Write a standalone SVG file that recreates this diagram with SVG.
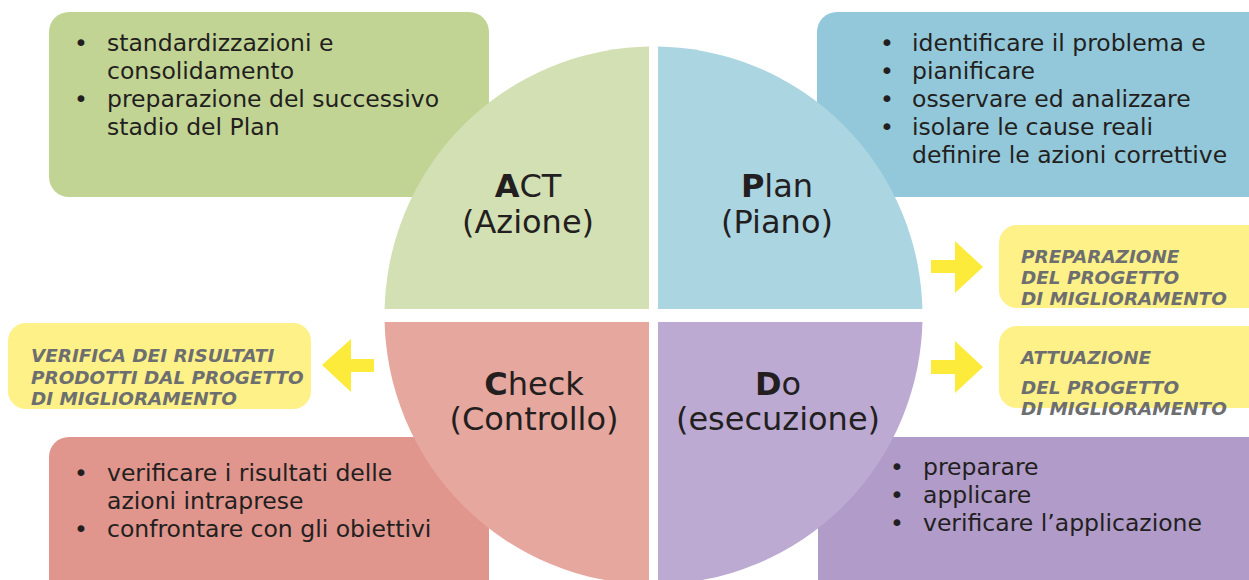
<svg xmlns="http://www.w3.org/2000/svg" width="1249" height="580" viewBox="0 0 1249 580">
<style>
.body{font-family:"DejaVu Sans","Liberation Sans",sans-serif;font-size:23.5px;fill:#231f20}
.big{font-family:"DejaVu Sans","Liberation Sans",sans-serif;font-size:32px;fill:#231f20;text-anchor:middle}
.yl{font-family:"DejaVu Sans","Liberation Sans",sans-serif;font-size:18.4px;font-weight:bold;font-style:italic;fill:#6d6e70}
.bul{text-anchor:middle}
.arrow{fill:#fdeb3b}
</style>
<defs>
<clipPath id="cq1"><rect x="0" y="0" width="649" height="309"/></clipPath>
<clipPath id="cq2"><rect x="658" y="0" width="600" height="309"/></clipPath>
<clipPath id="cq3"><rect x="0" y="322" width="649" height="300"/></clipPath>
<clipPath id="cq4"><rect x="658" y="322" width="600" height="300"/></clipPath>
</defs>
<rect width="1249" height="580" fill="#ffffff"/>

<g id="act-box">
<rect x="49" y="12" width="440" height="185" rx="20" fill="#c2d494"/>
<text class="body"><tspan class="bul" x="81" y="51">•</tspan><tspan x="107" y="51">standardizzazioni e</tspan><tspan x="107" y="79">consolidamento</tspan><tspan class="bul" x="81" y="107">•</tspan><tspan x="107" y="107">preparazione del successivo</tspan><tspan x="107" y="135">stadio del Plan</tspan></text>
</g>

<g id="plan-box">
<rect x="817" y="12" width="460" height="185" rx="20" fill="#92c8d9"/>
<text class="body"><tspan class="bul" x="887" y="51">•</tspan><tspan x="912" y="51">identificare il problema e</tspan><tspan class="bul" x="887" y="79">•</tspan><tspan x="912" y="79">pianificare</tspan><tspan class="bul" x="887" y="107">•</tspan><tspan x="912" y="107">osservare ed analizzare</tspan><tspan class="bul" x="887" y="135">•</tspan><tspan x="912" y="135">isolare le cause reali</tspan><tspan x="912" y="163">definire le azioni correttive</tspan></text>
</g>

<g id="check-box">
<rect x="49" y="437" width="440" height="180" rx="20" fill="#e0958d"/>
<text class="body"><tspan class="bul" x="81" y="481">•</tspan><tspan x="107" y="481">verificare i risultati delle</tspan><tspan x="107" y="509">azioni intraprese</tspan><tspan class="bul" x="81" y="537">•</tspan><tspan x="107" y="537">confrontare con gli obiettivi</tspan></text>
</g>

<g id="do-box">
<rect x="818" y="437" width="460" height="180" rx="20" fill="#b09bc9"/>
<text class="body"><tspan class="bul" x="897" y="475">•</tspan><tspan x="923" y="475">preparare</tspan><tspan class="bul" x="897" y="503">•</tspan><tspan x="923" y="503">applicare</tspan><tspan class="bul" x="897" y="531">•</tspan><tspan x="923" y="531">verificare l’applicazione</tspan></text>
</g>

<g id="act">
<circle cx="653.5" cy="315.5" r="269" fill="#d3e0b3" clip-path="url(#cq1)"/>
<text class="big" x="528" y="197"><tspan font-weight="bold">A</tspan>CT</text>
<text class="big" x="528" y="233">(Azione)</text>
</g>

<g id="plan">
<circle cx="653.5" cy="315.5" r="269" fill="#acd5e2" clip-path="url(#cq2)"/>
<text class="big" x="777" y="197"><tspan font-weight="bold">P</tspan>lan</text>
<text class="big" x="777" y="233">(Piano)</text>
</g>

<g id="check">
<circle cx="653.5" cy="315.5" r="269" fill="#e6a79e" clip-path="url(#cq3)"/>
<text class="big" x="534" y="395"><tspan font-weight="bold">C</tspan>heck</text>
<text class="big" x="534" y="430">(Controllo)</text>
</g>

<g id="do">
<circle cx="653.5" cy="315.5" r="269" fill="#bcaad2" clip-path="url(#cq4)"/>
<text class="big" x="778" y="395"><tspan font-weight="bold">D</tspan>o</text>
<text class="big" x="778" y="430">(esecuzione)</text>
</g>

<g id="preparazione">
<rect x="999" y="225" width="280" height="83" rx="18" fill="#fef187"/>
<text class="yl"><tspan x="1021" y="263">PREPARAZIONE</tspan><tspan x="1021" y="284">DEL PROGETTO</tspan><tspan x="1021" y="305">DI MIGLIORAMENTO</tspan></text>
</g>

<g id="attuazione">
<rect x="999" y="326" width="280" height="82" rx="18" fill="#fef187"/>
<text class="yl"><tspan x="1021" y="364">ATTUAZIONE</tspan><tspan x="1021" y="394">DEL PROGETTO</tspan><tspan x="1021" y="415">DI MIGLIORAMENTO</tspan></text>
</g>

<g id="verifica">
<rect x="8" y="323" width="303" height="86" rx="18" fill="#fef187"/>
<text class="yl"><tspan x="31" y="362">VERIFICA DEI RISULTATI</tspan><tspan x="31" y="384">PRODOTTI DAL PROGETTO</tspan><tspan x="31" y="405">DI MIGLIORAMENTO</tspan></text>
</g>

<g id="connectors">
<polygon class="arrow" points="931,260 955,260 955,241 983,267 955,293 955,273 931,273"/>
<polygon class="arrow" points="931,360 955,360 955,341 983,367 955,393 955,374 931,374"/>
<polygon class="arrow" points="374,359 351,359 351,339 322,365 351,392 351,372 374,372"/>
</g>
</svg>
